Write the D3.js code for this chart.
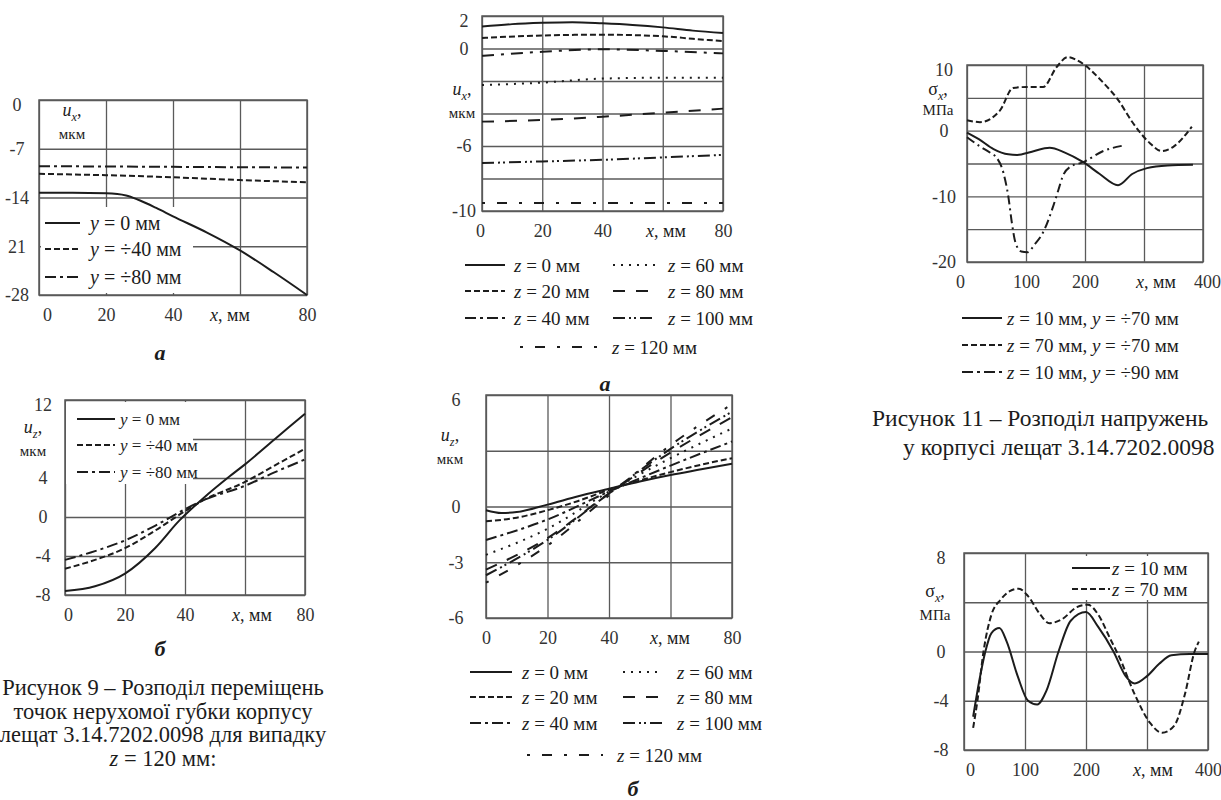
<!DOCTYPE html>
<html>
<head>
<meta charset="utf-8">
<script src="https://cdn.jsdelivr.net/npm/d3@7"></script>
<style>
body { margin: 0; background: #fff; }
svg { display: block; white-space: pre; }
svg text { font-family: "Liberation Serif", "DejaVu Serif", serif; }
</style>
</head>
<body>
<script>
// ---- дані, зчитані з рисунків ----
var xMm = [0, 20, 40, 60, 80];
var xMm400 = [0, 100, 200, 300, 400];

// рис. 9 а: u_x, мкм
var a_yTicks = [0, -7, -14, -21, -28];
var a_yLabels = ["0", "-7", "-14", "21", "-28"];
var a_y0 = [[0, -13.3], [10, -13.3], [20, -13.4], [26, -13.7], [30, -14.4], [35, -15.5], [40, -16.7], [50, -19], [60, -21.6], [70, -24.7], [80, -28]];
var a_y40 = [[0, -10.6], [20, -10.8], [40, -11.1], [60, -11.5], [80, -11.8]];
var a_y80 = [[0, -9.5], [40, -9.6], [80, -9.7]];

// рис. 9 б: u_z, мкм
var b_yTicks = [12, 8, 4, 0, -4, -8];
var b_yLabels = ["12", "", "4", "0", "-4", "-8"];
var b_y0 = [[0, -7.6], [10, -7.1], [20, -5.8], [30, -3.2], [38, -0.4], [46, 1.9], [55, 4.2], [60, 5.4], [70, 8], [80, 10.6]];
var b_y40 = [[0, -5.3], [10, -4.4], [20, -3.2], [30, -1.4], [40, 0.6], [46, 1.7], [60, 3.6], [70, 5.3], [80, 7]];
var b_y80 = [[0, -4.4], [10, -3.5], [20, -2.4], [30, -0.9], [40, 0.8], [46, 1.7], [60, 3.2], [70, 4.6], [80, 5.9]];

// рис. 10 а: u_x, мкм
var c_yTicks = [2, 0, -2, -4, -6, -8, -10];
var c_yLabels = ["2", "0", "", "", "-6", "", "-10"];
var c_z0 = [[0, 1.35], [10, 1.5], [20, 1.58], [30, 1.62], [40, 1.55], [50, 1.45], [60, 1.3], [70, 1.1], [80, 0.95]];
var c_z20 = [[0, 0.65], [20, 0.8], [40, 0.85], [60, 0.75], [70, 0.6], [80, 0.45]];
var c_z40 = [[0, -0.45], [20, -0.2], [40, -0.05], [60, -0.15], [80, -0.3]];
var c_z60 = [[0, -2.25], [20, -2.1], [40, -1.85], [60, -1.8], [80, -1.8]];
var c_z80 = [[0, -4.5], [20, -4.4], [40, -4.2], [60, -3.95], [80, -3.7]];
var c_z100 = [[0, -7.05], [20, -6.95], [40, -6.85], [60, -6.7], [80, -6.55]];
var c_z120 = [[0, -9.5], [40, -9.5], [80, -9.5]];

// рис. 10 б: u_z, мкм
var d_yTicks = [6, 3, 0, -3, -6];
var d_yLabels = ["6", "", "0", "-3", "-6"];
var d_z0 = [[0, -0.2], [5, -0.35], [10, -0.3], [20, 0.1], [30, 0.55], [40, 0.95], [50, 1.35], [60, 1.7], [70, 2.0], [80, 2.3]];
var d_z20 = [[0, -0.8], [10, -0.6], [20, -0.2], [30, 0.3], [40, 0.9], [50, 1.4], [60, 1.85], [70, 2.25], [80, 2.6]];
var d_z40 = [[0, -1.8], [20, -0.7], [40, 0.8], [60, 2.2], [80, 3.5]];
var d_z60 = [[0, -2.6], [20, -1.2], [40, 0.8], [60, 2.6], [80, 4.2]];
var d_z80 = [[0, -3.4], [20, -1.7], [40, 0.7], [60, 2.9], [80, 4.8]];
var d_z100 = [[0, -3.7], [20, -1.8], [40, 0.7], [60, 3.1], [80, 5.1]];
var d_z120 = [[0, -4.1], [20, -2.1], [40, 0.6], [60, 3.3], [80, 5.5]];

// рис. 11: σ_x, МПа
var e_yTicks = [10, 5, 0, -5, -10, -15, -20];
var e_yLabels = ["10", "", "0", "", "-10", "", "-20"];
var e_z10y70 = [[0, -0.3], [20, -1.3], [45, -2.8], [70, -3.6], [85, -3.7], [110, -3.2], [140, -2.6], [165, -3.3], [197, -4.8], [225, -6.6], [256, -8.3], [280, -6.6], [305, -5.7], [340, -5.3], [383, -5.2]];
var e_z70y70 = [[0, 1.6], [22, 1.3], [56, 3.1], [78, 6.5], [101, 6.65], [129, 6.65], [152, 9.7], [171, 11.2], [191, 10.5], [231, 7.3], [256, 4.7], [281, 1.2], [310, -1.9], [330, -3.1], [349, -2.5], [381, 0.6]];
var e_z10y90 = [[0, -1], [22, -2.4], [40, -3.4], [51, -4.2], [62, -6.5], [70, -10], [76, -14], [82, -17], [92, -18.4], [102, -18.5], [115, -17.3], [130, -15.3], [145, -11.8], [155, -9], [162, -7], [175, -5.5], [197, -4.8], [231, -3.1], [263, -2.3]];

// рис. 12: σ_x, МПа
var f_yTicks = [8, 4, 0, -4, -8];
var f_yLabels = ["8", "", "0", "-4", "-8"];
var f_z10 = [[15, -5.3], [25, -2.4], [35, 0], [45, 1.5], [58, 1.9], [70, 0.8], [88, -2], [105, -4], [120, -4.3], [135, -3.2], [155, 0], [175, 2.5], [200, 3.2], [220, 2], [245, 0], [265, -2], [280, -2.6], [300, -2], [320, -1], [340, -0.3], [370, -0.2], [400, -0.2]];
var f_z70 = [[15, -6.2], [22, -4], [32, 0], [45, 3], [60, 4.2], [75, 4.9], [90, 5.1], [105, 4.5], [125, 3], [140, 2.3], [160, 2.6], [185, 3.6], [203, 3.8], [220, 3], [240, 1], [255, -0.5], [280, -3.5], [305, -5.8], [325, -6.6], [345, -6], [362, -3.5], [378, 0], [385, 0.8]];

// ---- стилі ліній ----
var SOLID = null, DASH = "6,3", DASHDOT = "11,4,3,4", DOT = "2,6", LONGDASH = "12,11",
    DASHDOTDOT = "12,4,2,3,2,4", SPARSE = "3,12,10,12";

var FONT = "Liberation Serif, DejaVu Serif, serif";
var INK = "#1c1c1c", GRID = "#5a5a5a";

var svg = d3.select("body").append("svg")
            .attr("width", 1221)
            .attr("height", 800)
            .attr("font-family", FONT);

// текст з курсивом і нижніми індексами: [текст, "i" | "s" | "is"]
function rich(g, x, y, parts, size, anchor, weight) {
    var t = g.append("text")
             .attr("x", x).attr("y", y)
             .attr("font-family", FONT)
             .attr("font-size", size)
             .attr("text-anchor", anchor || "start")
             .attr("dominant-baseline", "central")
             .attr("fill", INK);
    if (weight) t.attr("font-weight", weight);
    parts.forEach(function(p) {
        var s = t.append("tspan").text(p[0]);
        var f = p[1] || "";
        if (f.indexOf("i") >= 0) s.attr("font-style", "italic");
        if (f.indexOf("s") >= 0) s.attr("baseline-shift", "sub").attr("font-size", size * 0.68);
    });
    return t;
}

function panel(o) {
    var x = d3.scaleLinear().domain(o.xd).range([o.l, o.r]);
    var y = d3.scaleLinear().domain(o.yd).range([o.b, o.t]);
    var g = svg.append("g");

    var gx = g.append("g")
              .attr("transform", "translate(0," + o.b + ")")
              .call(d3.axisBottom(x)
                      .tickValues(o.xt)
                      .tickSize(-(o.b - o.t))
                      .tickPadding(o.xPad || 13)
                      .tickFormat(function(d, i) { return o.xl[i]; }));
    var gy = g.append("g")
              .attr("transform", "translate(" + o.l + ",0)")
              .call(d3.axisLeft(y)
                      .tickValues(o.yt)
                      .tickSize(-(o.r - o.l))
                      .tickFormat(function(d, i) { return o.yl[i]; }));
    gx.attr("font-family", FONT);
    gy.attr("font-family", FONT);
    g.selectAll(".domain").remove();
    g.selectAll(".tick line").attr("stroke", GRID).attr("stroke-width", 1.3);
    g.selectAll(".tick text")
     .attr("font-family", FONT)
     .attr("font-size", o.tickSize || 18)
     .attr("fill", "#333");
    gy.selectAll(".tick text")
      .attr("x", -o.yOff)
      .attr("text-anchor", "middle")
      .attr("y", function(d) { return d === o.yd[1] ? 5 : 0; });
    gx.selectAll(".tick text")
      .attr("x", function(d) { return d === o.xd[0] ? (o.x0Shift || 0) : (d === o.xd[1] ? (o.xEndShift || 0) : 0); });

    g.append("rect")
     .attr("x", o.l).attr("y", o.t)
     .attr("width", o.r - o.l).attr("height", o.b - o.t)
     .attr("fill", "none").attr("stroke", GRID).attr("stroke-width", 1.5);

    // підпис осі x
    rich(g, o.xTitleX, o.b + 20, [["x", "i"], [", мм"]], o.tickSize || 18, "middle");
    // підпис осі y
    rich(g, o.yTitle[0], o.yTitle[1], o.yTitle[2], 18, "middle");
    rich(g, o.yTitle[0], o.yTitle[1] + (o.yTitle[4] || 24), [[o.yTitle[3]]], 15, "middle");

    if (o.legendBox) {
        g.append("rect")
         .attr("x", o.legendBox[0]).attr("y", o.legendBox[1])
         .attr("width", o.legendBox[2]).attr("height", o.legendBox[3])
         .attr("fill", "#fff");
    }

    var line = d3.line()
                 .x(function(d) { return x(d[0]); })
                 .y(function(d) { return y(d[1]); })
                 .curve(d3.curveMonotoneX);
    o.series.forEach(function(s) {
        g.append("path")
         .datum(s.d)
         .attr("d", line)
         .attr("fill", "none")
         .attr("stroke", INK)
         .attr("stroke-width", 2)
         .attr("stroke-dasharray", s.dash);
    });
    return g;
}

function legendRow(g, x1, x2, y, dash, parts, size, tx) {
    g.append("line")
     .attr("x1", x1).attr("x2", x2).attr("y1", y).attr("y2", y)
     .attr("stroke", INK).attr("stroke-width", 2.2)
     .attr("stroke-dasharray", dash);
    rich(g, tx, y, parts, size, "start");
}

function zmm(v) { return [["z", "i"], [" = " + v + " мм"]]; }
function ymm(v) { return [["y", "i"], [" = " + v + " мм"]]; }

// ---- рис. 9 а ----
var gA = panel({
    l: 39, r: 307, t: 100, b: 295, xd: [0, 80], yd: [-28, 0],
    xt: xMm, xl: ["0", "20", "40", "", "80"], x0Shift: 8, xTitleX: 230,
    yt: a_yTicks, yl: a_yLabels, yOff: 22,
    yTitle: [72, 110, [["u", "i"], ["x", "is"], [","]], "мкм"],
    legendBox: [41, 207, 152, 86],
    series: [{ d: a_y0, dash: SOLID }, { d: a_y40, dash: DASH }, { d: a_y80, dash: DASHDOT }]
});
legendRow(gA, 45, 80, 223, SOLID, ymm("0"), 20, 90);
legendRow(gA, 45, 80, 249, DASH, ymm("÷40"), 20, 90);
legendRow(gA, 45, 80, 277, DASHDOT, ymm("÷80"), 20, 90);
rich(svg, 160, 352, [["a", "i"]], 22, "middle", "bold");

// ---- рис. 9 б ----
var gB = panel({
    l: 65, r: 305, t: 400, b: 595, xd: [0, 80], yd: [-8, 12],
    xt: xMm, xl: ["0", "20", "40", "", "80"], x0Shift: 3, xTitleX: 252,
    yt: b_yTicks, yl: b_yLabels, yOff: 22,
    yTitle: [33, 427, [["u", "i"], ["z", "is"], [","]], "мкм"],
    legendBox: [66, 402, 127, 82],
    series: [{ d: b_y0, dash: SOLID }, { d: b_y40, dash: DASH }, { d: b_y80, dash: DASHDOT }]
});
legendRow(gB, 77, 115, 419, SOLID, ymm("0"), 17, 120);
legendRow(gB, 77, 115, 445, DASH, ymm("÷40"), 17, 120);
legendRow(gB, 77, 115, 472, DASHDOT, ymm("÷80"), 17, 120);
rich(svg, 160, 648, [["б", "i"]], 22, "middle", "bold");

// підпис рис. 9
var cap9 = [
    [["Рисунок 9 – Розподіл переміщень"]],
    [["точок нерухомої губки корпусу"]],
    [["лещат 3.14.7202.0098 для випадку"]],
    [["z", "i"], [" = 120 мм:"]]
];
cap9.forEach(function(p, i) { rich(svg, 163, 687 + i * 23.7, p, 22.5, "middle"); });

// ---- рис. 10 а ----
var gC = panel({
    l: 482, r: 723, t: 16, b: 211, xd: [0, 80], yd: [-10, 2],
    xt: xMm, xl: ["0", "20", "40", "", "80"], x0Shift: -2, xTitleX: 666,
    yt: c_yTicks, yl: c_yLabels, yOff: 18,
    yTitle: [462, 89, [["u", "i"], ["x", "is"], [","]], "мкм"],
    series: [{ d: c_z0, dash: SOLID }, { d: c_z20, dash: DASH }, { d: c_z40, dash: "12,7,3,7" },
             { d: c_z60, dash: DOT }, { d: c_z80, dash: LONGDASH }, { d: c_z100, dash: DASHDOTDOT },
             { d: c_z120, dash: SPARSE }]
});
legendRow(gC, 465, 505, 265, SOLID, zmm("0"), 19, 514);
legendRow(gC, 465, 505, 291, DASH, zmm("20"), 19, 514);
legendRow(gC, 465, 505, 318, DASHDOT, zmm("40"), 19, 514);
legendRow(gC, 613, 655, 265, DOT, zmm("60"), 19, 668);
legendRow(gC, 613, 655, 291, LONGDASH, zmm("80"), 19, 668);
legendRow(gC, 613, 655, 318, DASHDOTDOT, zmm("100"), 19, 668);
legendRow(gC, 520, 597, 347, SPARSE, zmm("120"), 19, 612);
rich(svg, 605, 383, [["a", "i"]], 22, "middle", "bold");

// ---- рис. 10 б ----
var gD = panel({
    l: 486, r: 732, t: 395, b: 618, xd: [0, 80], yd: [-6, 6],
    xt: xMm, xl: ["0", "20", "40", "", "80"], xTitleX: 670,
    yt: d_yTicks, yl: d_yLabels, yOff: 30,
    yTitle: [450, 435, [["u", "i"], ["z", "is"], [","]], "мкм"],
    series: [{ d: d_z0, dash: SOLID }, { d: d_z20, dash: DASH }, { d: d_z40, dash: DASHDOT },
             { d: d_z60, dash: DOT }, { d: d_z80, dash: LONGDASH }, { d: d_z100, dash: DASHDOTDOT },
             { d: d_z120, dash: SPARSE }]
});
legendRow(gD, 470, 512, 672, SOLID, zmm("0"), 19, 522);
legendRow(gD, 470, 512, 697, DASH, zmm("20"), 19, 522);
legendRow(gD, 470, 512, 723, DASHDOT, zmm("40"), 19, 522);
legendRow(gD, 623, 663, 672, DOT, zmm("60"), 19, 677);
legendRow(gD, 623, 663, 697, LONGDASH, zmm("80"), 19, 677);
legendRow(gD, 623, 663, 723, DASHDOTDOT, zmm("100"), 19, 677);
legendRow(gD, 527, 603, 755, SPARSE, zmm("120"), 19, 617);
rich(svg, 633, 788, [["б", "i"]], 22, "middle", "bold");

// ---- рис. 11 ----
var gE = panel({
    l: 967, r: 1203, t: 65, b: 262, xd: [0, 400], yd: [-20, 10],
    xt: xMm400, xl: ["0", "100", "200", "", "400"], x0Shift: -7, xEndShift: 4, xTitleX: 1156,
    yt: e_yTicks, yl: e_yLabels, yOff: 23,
    yTitle: [938, 89, [["σ"], ["x", "is"], [","]], "МПа", 21],
    series: [{ d: e_z10y70, dash: SOLID }, { d: e_z70y70, dash: DASH }, { d: e_z10y90, dash: "9,4,2,4" }]
});
legendRow(gE, 962, 1002, 318, SOLID, [["z", "i"], [" = 10 мм, "], ["y", "i"], [" = ÷70 мм"]], 19, 1007);
legendRow(gE, 962, 1002, 345, DASH, [["z", "i"], [" = 70 мм, "], ["y", "i"], [" = ÷70 мм"]], 19, 1007);
legendRow(gE, 962, 1002, 372, DASHDOT, [["z", "i"], [" = 10 мм, "], ["y", "i"], [" = ÷90 мм"]], 19, 1007);
rich(svg, 872, 418, [["Рисунок 11 – Розподіл напружень"]], 23.5, "start");
rich(svg, 903, 447, [["у корпусі лещат 3.14.7202.0098"]], 23.5, "start");

// ---- рис. 12 ----
var gF = panel({
    l: 964, r: 1208, t: 553, b: 750, xd: [0, 400], yd: [-8, 8],
    xt: xMm400, xl: ["0", "100", "200", "", "400"], x0Shift: 6, xTitleX: 1153,
    yt: f_yTicks, yl: f_yLabels, yOff: 23,
    yTitle: [935, 591, [["σ"], ["x", "is"], [","]], "МПа"],
    legendBox: [1068, 556, 138, 44],
    series: [{ d: f_z10, dash: SOLID }, { d: f_z70, dash: DASH }]
});
legendRow(gF, 1072, 1110, 568, SOLID, zmm("10"), 19, 1112);
legendRow(gF, 1072, 1110, 589, DASH, zmm("70"), 19, 1112);
</script>
</body>
</html>
